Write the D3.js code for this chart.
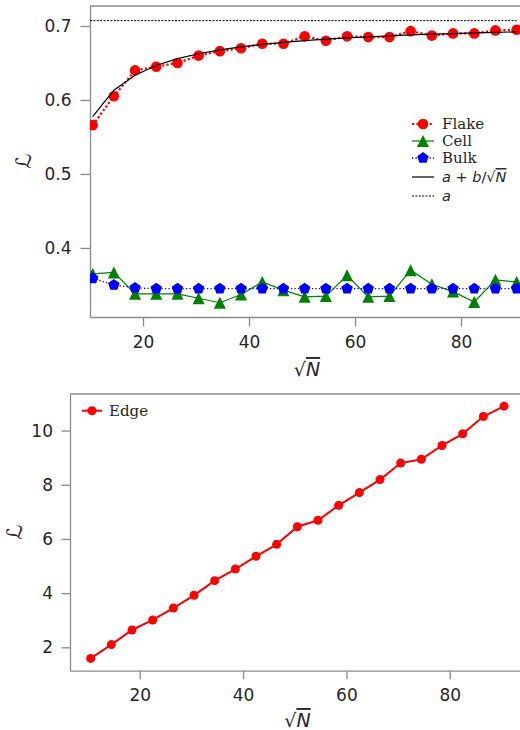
<!DOCTYPE html>
<html><head><meta charset="utf-8">
<script src="https://cdn.jsdelivr.net/npm/d3@7"></script>
<style>
body{margin:0;background:#fff;}
svg{display:block;}
.tick text{font-family:"DejaVu Sans",sans-serif;font-size:17px;fill:#262626;}
.lab{font-family:"DejaVu Sans",sans-serif;fill:#262626;}
.leg{font-family:"DejaVu Serif",serif;font-size:15px;fill:#262626;}
</style></head>
<body>
<script>
// ---- data ----
const sqrtN = [10.5,14.5,18.5,22.5,26.5,30.5,34.5,38.5,42.5,46.5,50.5,54.5,58.5,62.5,66.5,70.5,74.5,78.5,82.5,86.5,90.5];
const flake = [0.566,0.605,0.640,0.645,0.650,0.660,0.666,0.670,0.676,0.676,0.686,0.680,0.686,0.685,0.685,0.693,0.687,0.690,0.690,0.694,0.695];
const cell  = [0.365,0.367,0.338,0.338,0.338,0.332,0.326,0.337,0.354,0.343,0.334,0.335,0.363,0.334,0.335,0.370,0.351,0.341,0.327,0.357,0.354];
const bulk  = [0.359,0.350,0.346,0.345,0.345,0.345,0.345,0.345,0.345,0.345,0.345,0.345,0.345,0.345,0.345,0.345,0.345,0.345,0.345,0.345,0.345];
const fitVals = [0.5774,0.6132,0.6335,0.6466,0.6558,0.6625,0.6677,0.6718,0.6751,0.6779,0.6802,0.6822,0.6839,0.6854,0.6867,0.6879,0.6889,0.6898,0.6907,0.6914,0.6921];
const aValue = 0.7072;
const edge  = [1.59,2.10,2.64,3.01,3.45,3.92,4.46,4.89,5.36,5.80,6.45,6.69,7.24,7.71,8.19,8.80,8.94,9.45,9.88,10.52,10.90];
const topYTicks = [0.4,0.5,0.6,0.7];
const botYTicks = [2,4,6,8,10];
const xTicks = [20,40,60,80];

const W=520,H=730;
const svg=d3.select("body").append("svg").attr("width",W).attr("height",H);
const spineCol="#8a8a8a";

// custom symbols
const triangle={draw(ctx,r){ctx.moveTo(0,-r);ctx.lineTo(-r,r);ctx.lineTo(r,r);ctx.closePath();}};
const pentagon={draw(ctx,r){for(let i=0;i<5;i++){const a=-Math.PI/2+i*2*Math.PI/5;const px=r*Math.cos(a),py=r*Math.sin(a);if(i===0)ctx.moveTo(px,py);else ctx.lineTo(px,py);}ctx.closePath();}};
function symPath(type,r){const p=d3.path();type.draw(p,r);return p.toString();}

function sqrtLabel(g,x,y,size){
  const t=g.append("text").attr("class","lab").attr("x",x).attr("y",y).attr("text-anchor","middle").style("font-size",size+"px");
  t.append("tspan").text("√");
  t.append("tspan").style("font-style","italic").style("text-decoration","overline").text("N");
}

function makeAxes(o){
  const g=svg.append("g");
  const x=d3.scaleLinear().domain(o.xd).range(o.xr);
  const y=d3.scaleLinear().domain(o.yd).range(o.yr);
  const id="clip"+o.name;
  svg.append("clipPath").attr("id",id).append("rect")
    .attr("x",o.xr[0]).attr("y",o.yr[1]).attr("width",o.xr[1]-o.xr[0]).attr("height",o.yr[0]-o.yr[1]);
  const xa=g.append("g").attr("transform",`translate(0,${o.yr[0]})`)
    .call(d3.axisBottom(x).tickValues(xTicks).tickSize(o.ts).tickPadding(o.tpx).tickSizeOuter(0));
  const ya=g.append("g").attr("transform",`translate(${o.xr[0]},0)`)
    .call(d3.axisLeft(y).tickValues(o.yt).tickSize(o.ts).tickPadding(o.tpy).tickSizeOuter(0).tickFormat(o.yf));
  [xa,ya].forEach(a=>{a.select(".domain").attr("stroke",spineCol).attr("stroke-width",1.3);
    a.selectAll(".tick line").attr("stroke",spineCol).attr("stroke-width",1.3);});
  g.append("line").attr("x1",o.xr[0]).attr("x2",o.xr[1]).attr("y1",o.yr[1]).attr("y2",o.yr[1])
    .attr("stroke",spineCol).attr("stroke-width",1.3);
  const plot=g.append("g").attr("clip-path",`url(#${id})`);
  return {g,x,y,plot};
}

// ---- top panel ----
const T=makeAxes({name:"top",xd:[10,94.5],xr:[90,90+84.5*5.3],yd:[0.3067,0.727],yr:[317,6],yt:topYTicks,yf:d3.format(".1f"),ts:9.5,tpx:9,tpy:9});
const lt=d3.line().x((d,i)=>T.x(sqrtN[i])).y(d=>T.y(d));
// Flake
T.plot.append("path").datum(flake).attr("d",lt).attr("fill","none").attr("stroke","#ff0000").attr("stroke-width",2.2).attr("stroke-dasharray","2.2,2.2");
T.plot.selectAll(".fl").data(flake).join("circle").attr("cx",(d,i)=>T.x(sqrtN[i])).attr("cy",d=>T.y(d)).attr("r",5.3).attr("fill","#ff0000");
// Cell
T.plot.append("path").datum(cell).attr("d",lt).attr("fill","none").attr("stroke","#008000").attr("stroke-width",1.2);
T.plot.selectAll(".ce").data(cell).join("path").attr("d",symPath(triangle,6)).attr("transform",(d,i)=>`translate(${T.x(sqrtN[i])},${T.y(d)})`).attr("fill","#008000");
// Bulk
T.plot.append("path").datum(bulk).attr("d",lt).attr("fill","none").attr("stroke","#0000ff").attr("stroke-width",1.3).attr("stroke-dasharray","1.3,2.2");
T.plot.selectAll(".bu").data(bulk).join("path").attr("d",symPath(pentagon,6)).attr("transform",(d,i)=>`translate(${T.x(sqrtN[i])},${T.y(d)})`).attr("fill","#0000ff");
// fit
T.plot.append("path").datum(fitVals).attr("d",lt).attr("fill","none").attr("stroke","#000").attr("stroke-width",1.2);
T.plot.append("line").attr("x1",T.x(10)).attr("x2",T.x(90.5)).attr("y1",T.y(aValue)).attr("y2",T.y(aValue))
  .attr("stroke","#000").attr("stroke-width",1).attr("stroke-dasharray","2,1.4");

// top legend
const LG=svg.append("g");
const lx0=412,lx1=434,ltx=442;
const rows=[124,141,158,177,196];
LG.append("line").attr("x1",lx0).attr("x2",lx1).attr("y1",rows[0]).attr("y2",rows[0]).attr("stroke","#ff0000").attr("stroke-width",2.2).attr("stroke-dasharray","2.2,2.2");
LG.append("circle").attr("cx",(lx0+lx1)/2).attr("cy",rows[0]).attr("r",5.3).attr("fill","#ff0000");
LG.append("line").attr("x1",lx0).attr("x2",lx1).attr("y1",rows[1]).attr("y2",rows[1]).attr("stroke","#008000").attr("stroke-width",1.2);
LG.append("path").attr("d",symPath(triangle,6)).attr("transform",`translate(${(lx0+lx1)/2},${rows[1]})`).attr("fill","#008000");
LG.append("line").attr("x1",lx0).attr("x2",lx1).attr("y1",rows[2]).attr("y2",rows[2]).attr("stroke","#0000ff").attr("stroke-width",1.3).attr("stroke-dasharray","1.3,2.2");
LG.append("path").attr("d",symPath(pentagon,6)).attr("transform",`translate(${(lx0+lx1)/2},${rows[2]})`).attr("fill","#0000ff");
LG.append("line").attr("x1",lx0).attr("x2",lx1).attr("y1",rows[3]).attr("y2",rows[3]).attr("stroke","#000").attr("stroke-width",1.2);
LG.append("line").attr("x1",lx0).attr("x2",lx1).attr("y1",rows[4]).attr("y2",rows[4]).attr("stroke","#000").attr("stroke-width",1).attr("stroke-dasharray","2,1.4");
["Flake","Cell","Bulk"].forEach((t,i)=>LG.append("text").attr("class","leg").attr("x",ltx).attr("y",rows[i]).attr("dy","0.35em").text(t));
{
  const t=LG.append("text").attr("class","lab").attr("x",ltx).attr("y",rows[3]).attr("dy","0.35em").style("font-size","14.5px");
  t.append("tspan").style("font-style","italic").text("a");
  t.append("tspan").text(" + ");
  t.append("tspan").style("font-style","italic").text("b");
  t.append("tspan").text("/√");
  t.append("tspan").style("font-style","italic").style("text-decoration","overline").text("N");
  LG.append("text").attr("class","lab").attr("x",ltx).attr("y",rows[4]).attr("dy","0.35em").style("font-size","14.5px").style("font-style","italic").text("a");
}
// labels
sqrtLabel(svg,307,376,19);
svg.append("text").attr("class","lab").attr("transform","translate(31,161) rotate(-90)").attr("text-anchor","middle").style("font-size","21px").text("ℒ");

// ---- bottom panel ----
const B=makeAxes({name:"bot",xd:[6.5,94.5],xr:[70,70+88*5.167],yd:[1.137,11.35],yr:[670.7,394],yt:botYTicks,yf:d3.format("d"),ts:8.5,tpx:9.5,tpy:8.5});
const lb=d3.line().x((d,i)=>B.x(sqrtN[i])).y(d=>B.y(d));
B.plot.append("path").datum(edge).attr("d",lb).attr("fill","none").attr("stroke","#ff0000").attr("stroke-width",2);
B.plot.selectAll(".ed").data(edge).join("circle").attr("cx",(d,i)=>B.x(sqrtN[i])).attr("cy",d=>B.y(d)).attr("r",4.5).attr("fill","#ff0000");
// legend
svg.append("line").attr("x1",82).attr("x2",102).attr("y1",410.7).attr("y2",410.7).attr("stroke","#ff0000").attr("stroke-width",2);
svg.append("circle").attr("cx",92).attr("cy",410.7).attr("r",4.5).attr("fill","#ff0000");
svg.append("text").attr("class","leg").attr("x",109).attr("y",410.7).attr("dy","0.35em").text("Edge");
sqrtLabel(svg,297.5,727,19);
svg.append("text").attr("class","lab").attr("transform","translate(22,532) rotate(-90)").attr("text-anchor","middle").style("font-size","21px").text("ℒ");
</script>
</body></html>
